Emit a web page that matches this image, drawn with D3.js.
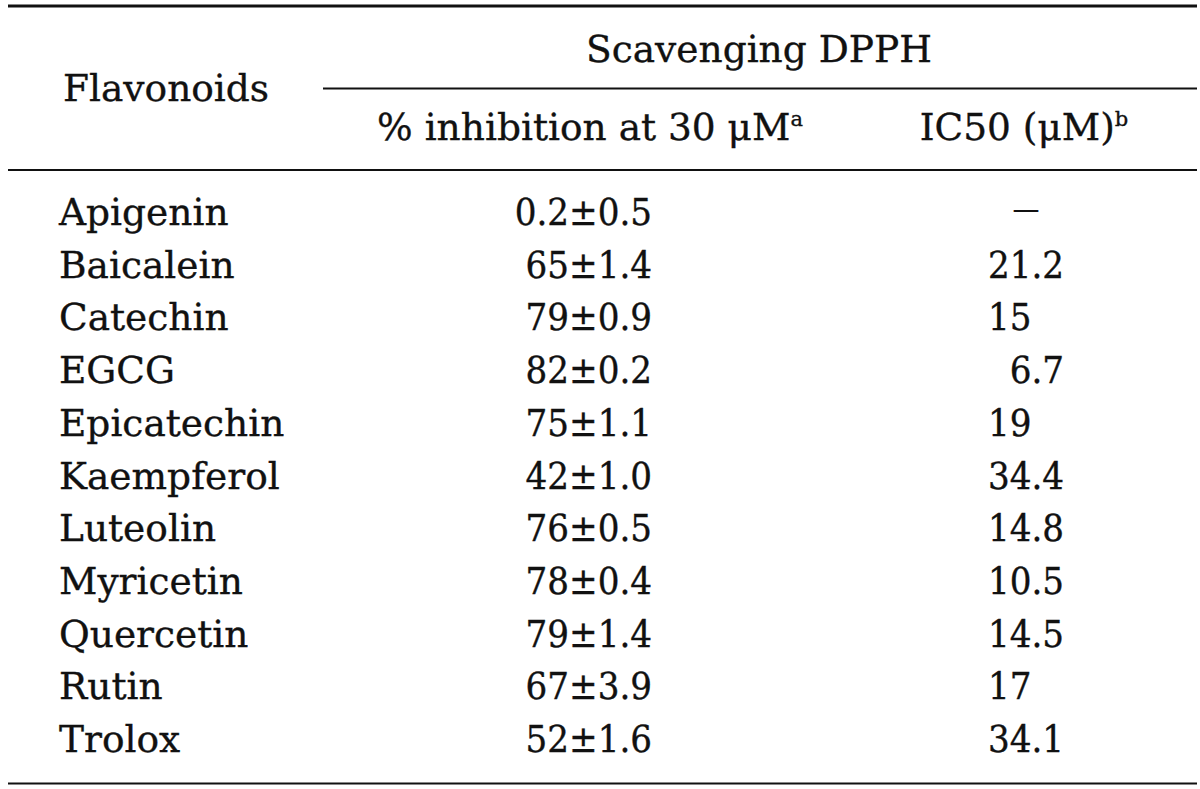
<!DOCTYPE html>
<html>
<head>
<meta charset="utf-8">
<script src="https://cdn.jsdelivr.net/npm/d3@7"></script>
<style>
  html, body { margin: 0; padding: 0; background: #fff; }
  svg text { font-family: "DejaVu Serif", "Liberation Serif", serif; fill: #111; stroke: #111; stroke-width: 0.35px; }
  svg text.num { font-family: "DejaVu Serif Condensed", "DejaVu Serif", serif; font-stretch: condensed; }
</style>
</head>
<body>
<svg id="chart" width="1200" height="789"></svg>
<script>
// ---- data ----
const flavonoids = ["Apigenin", "Baicalein", "Catechin", "EGCG", "Epicatechin", "Kaempferol",
  "Luteolin", "Myricetin", "Quercetin", "Rutin", "Trolox"];
const inhibitionMean = [0.2, 65, 79, 82, 75, 42, 76, 78, 79, 67, 52];
const inhibitionSD = ["0.5", "1.4", "0.9", "0.2", "1.1", "1.0", "0.5", "0.4", "1.4", "3.9", "1.6"];
const ic50 = ["", "21.2", "15", "\u20076.7", "19", "34.4", "14.8", "10.5", "14.5", "17", "34.1"];
const groupHeader = "Scavenging DPPH";
const rowHeader = "Flavonoids";
const colHeaders = [{ main: "% inhibition at 30 \u03bcM", sup: "a" }, { main: "IC50 (\u03bcM)", sup: "b" }];

// ---- drawing ----
const svg = d3.select("#chart");
const fs = 37.5;   // letter text
const fn = 38;     // numeric cells

const y = d3.scalePoint().domain(flavonoids).range([225, 752]);
const x = d3.scaleOrdinal().domain(["name", "inh", "ic50", "dash"]).range([59, 652, 988, 1026]);

// rules
const rules = [
  { x1: 8, x2: 1197, y: 6, w: 3 },
  { x1: 323, x2: 1197, y: 88.5, w: 2 },
  { x1: 8, x2: 1197, y: 170, w: 2 },
  { x1: 8, x2: 1197, y: 783.5, w: 2 }
];
svg.selectAll("line.rule").data(rules).join("line")
  .attr("class", "rule")
  .attr("x1", d => d.x1).attr("x2", d => d.x2)
  .attr("y1", d => d.y).attr("y2", d => d.y)
  .attr("stroke", "#111").attr("stroke-width", d => d.w);

// headers
svg.append("text").attr("x", 63).attr("y", 101).attr("font-size", fs).text(rowHeader);
svg.append("text").attr("x", 759).attr("y", 62).attr("text-anchor", "middle")
  .attr("font-size", fs).text(groupHeader);

const colCenters = [590, 1024];
colHeaders.forEach((h, i) => {
  const t = svg.append("text").attr("x", colCenters[i]).attr("y", 140)
    .attr("text-anchor", "middle").attr("font-size", fs);
  t.append("tspan").text(h.main);
  t.append("tspan").attr("font-size", 21).attr("dy", -14).text(h.sup);
});

// body rows
const rows = flavonoids.map((name, i) => ({
  name, mean: inhibitionMean[i], sd: inhibitionSD[i], ic50: ic50[i]
}));

svg.selectAll("text.name").data(rows).join("text")
  .attr("class", "name")
  .attr("x", x("name")).attr("y", d => y(d.name))
  .attr("font-size", fs).text(d => d.name);

svg.selectAll("text.inh").data(rows).join("text")
  .attr("class", "inh num")
  .attr("x", x("inh")).attr("y", d => y(d.name))
  .attr("text-anchor", "end")
  .attr("font-size", fn).text(d => `${d.mean}\u00b1${d.sd}`);

svg.selectAll("text.ic50").data(rows).join("text")
  .attr("class", "ic50 num")
  .attr("x", d => d.ic50 ? x("ic50") : x("dash"))
  .attr("y", d => d.ic50 ? y(d.name) : y(d.name) - 6)
  .attr("text-anchor", d => d.ic50 ? "start" : "middle")
  .attr("font-size", d => d.ic50 ? fn : 30)
  .style("stroke-width", d => d.ic50 ? null : "0px")
  .text(d => d.ic50 || "\u2014");
</script>
</body>
</html>
